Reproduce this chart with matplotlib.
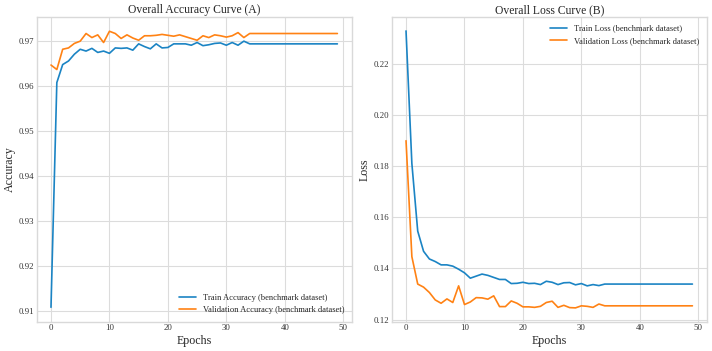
import matplotlib
matplotlib.use('Agg')
import matplotlib.pyplot as plt

# Per-epoch values
epochs = list(range(50))

train_acc = [0.9108, 0.9607, 0.9647, 0.9655, 0.9670, 0.9681, 0.9677, 0.9683,
             0.9674, 0.9677, 0.9672, 0.9684, 0.9683, 0.9684, 0.9679, 0.9693,
             0.9687, 0.9682, 0.9693, 0.9684, 0.9685, 0.9693, 0.9693, 0.9693,
             0.9690, 0.9696, 0.9689, 0.9691, 0.9694, 0.9695, 0.9690, 0.9696,
             0.9690, 0.9699] + [0.9693] * 16
val_acc = [0.9646, 0.9636, 0.9681, 0.9684, 0.9694, 0.9699, 0.9716, 0.9707,
           0.9713, 0.9696, 0.9721, 0.9716, 0.9705, 0.9713, 0.9706, 0.9701,
           0.9711, 0.9711, 0.9712, 0.9714, 0.9712, 0.9710, 0.9713, 0.9709,
           0.9705, 0.9701, 0.9711, 0.9707, 0.9713, 0.9711, 0.9708, 0.9711,
           0.9718, 0.9707] + [0.9716] * 16

train_loss = [0.2328, 0.1810, 0.1546, 0.1467, 0.1437, 0.1427, 0.1414, 0.1414,
              0.1409, 0.1397, 0.1383, 0.1362, 0.1370, 0.1378, 0.1373, 0.1365,
              0.1357, 0.1357, 0.1341, 0.1342, 0.1346, 0.1341, 0.1342, 0.1337,
              0.1350, 0.1346, 0.1337, 0.1344, 0.1345, 0.1336, 0.1341, 0.1332,
              0.1337, 0.1333] + [0.1339] * 16
val_loss = [0.1899, 0.1446, 0.1339, 0.1327, 0.1306, 0.1277, 0.1264, 0.1281,
            0.1267, 0.1332, 0.1259, 0.1269, 0.1286, 0.1285, 0.1280, 0.1293,
            0.1251, 0.1251, 0.1273, 0.1264, 0.1250, 0.1250, 0.1248, 0.1252,
            0.1267, 0.1272, 0.1248, 0.1256, 0.1247, 0.1246, 0.1254, 0.1252,
            0.1248, 0.1261] + [0.1254] * 16

acc_ticks = [0.91, 0.92, 0.93, 0.94, 0.95, 0.96, 0.97]
loss_ticks = [0.12, 0.14, 0.16, 0.18, 0.20, 0.22]

blue = '#1b84c4'
orange = '#ff8214'

plt.style.use('seaborn-v0_8-whitegrid')
plt.rcParams['font.family'] = ['Liberation Serif', 'DejaVu Serif']
plt.rcParams['axes.edgecolor'] = '#d9d9d9'
plt.rcParams['grid.color'] = '#dcdcdc'


def main():
    fig, (ax1, ax2) = plt.subplots(1, 2, figsize=(7.12, 3.51), dpi=100)
    fig.subplots_adjust(left=0.0515, right=0.9926, top=0.952, bottom=0.0835,
                        wspace=0.127)

    ax1.plot(epochs, train_acc, color=blue, lw=1.2,
             label='Train Accuracy (benchmark dataset)')
    ax1.plot(epochs, val_acc, color=orange, lw=1.2,
             label='Validation Accuracy (benchmark dataset)')
    ax1.set_title('Overall Accuracy Curve (A)', fontsize=8.4, pad=2.5)
    ax1.set_xlabel('Epochs', fontsize=8.6, labelpad=2)
    ax1.set_ylabel('Accuracy', fontsize=8.6, labelpad=1.5)
    ax1.set_yticks(acc_ticks)
    ax1.legend(loc='lower right', fontsize=6.1, handlelength=2)

    ax2.plot(epochs, train_loss, color=blue, lw=1.2,
             label='Train Loss (benchmark dataset)')
    ax2.plot(epochs, val_loss, color=orange, lw=1.2,
             label='Validation Loss (benchmark dataset)')
    ax2.set_title('Overall Loss Curve (B)', fontsize=8.4, pad=2.5)
    ax2.set_xlabel('Epochs', fontsize=8.6, labelpad=2)
    ax2.set_ylabel('Loss', fontsize=8.6, labelpad=1.5)
    ax2.set_yticks(loss_ticks)
    ax2.legend(loc='upper right', fontsize=6.1, handlelength=2)

    for ax in (ax1, ax2):
        ax.set_xticks([0, 10, 20, 30, 40, 50])
        ax.tick_params(labelsize=6.3, pad=2, colors='#333333')
        ax.set_xlim(-2.45, 51.45)

    ax1.set_ylim(0.9076, 0.9753)
    ax2.set_ylim(0.1192, 0.2383)

    fig.savefig('out.png', dpi=100)


if __name__ == '__main__':
    main()
